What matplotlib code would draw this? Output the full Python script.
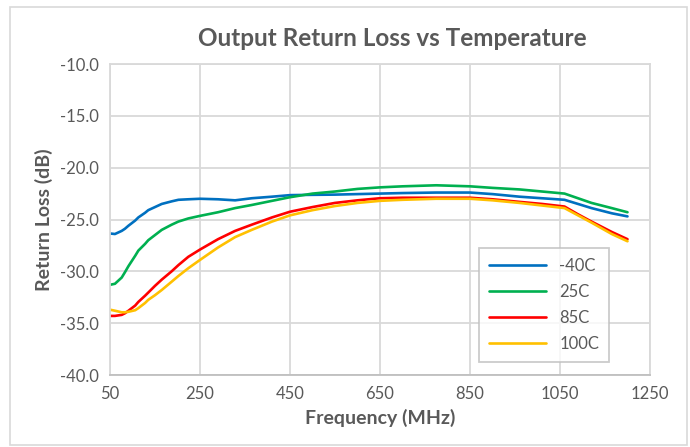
import matplotlib
matplotlib.use("Agg")
import matplotlib.pyplot as plt
from matplotlib.patches import Rectangle

freq = [50, 61, 76, 83, 91, 106, 113, 128, 135, 150, 165, 187, 202, 224, 250, 290, 328, 365, 410, 450, 500, 550, 600, 650, 700, 775, 850, 900, 960, 1010, 1060, 1090, 1120, 1165, 1200]
rl_m40 = [-26.35, -26.4, -26.1, -25.9, -25.6, -25.1, -24.8, -24.35, -24.1, -23.8, -23.5, -23.25, -23.1, -23.05, -23.0, -23.05, -23.15, -22.95, -22.8, -22.65, -22.62, -22.6, -22.55, -22.5, -22.45, -22.4, -22.4, -22.55, -22.8, -22.95, -23.1, -23.5, -23.9, -24.4, -24.7]
rl_25 = [-31.3, -31.2, -30.6, -30.1, -29.5, -28.5, -28.0, -27.35, -27.0, -26.5, -26.0, -25.5, -25.2, -24.9, -24.65, -24.3, -23.9, -23.6, -23.2, -22.85, -22.5, -22.3, -22.05, -21.9, -21.8, -21.7, -21.8, -21.95, -22.1, -22.3, -22.5, -22.95, -23.4, -23.9, -24.3]
rl_85 = [-34.3, -34.3, -34.2, -34.05, -33.8, -33.3, -32.95, -32.35, -32.05, -31.4, -30.8, -30.0, -29.4, -28.6, -27.9, -26.9, -26.1, -25.5, -24.8, -24.25, -23.8, -23.4, -23.15, -22.95, -22.9, -22.9, -22.9, -23.05, -23.3, -23.5, -23.75, -24.5, -25.2, -26.2, -26.9]
rl_100 = [-33.7, -33.8, -33.95, -33.95, -33.9, -33.75, -33.55, -33.05, -32.75, -32.3, -31.8, -31.0, -30.45, -29.7, -28.9, -27.7, -26.7, -26.0, -25.2, -24.6, -24.1, -23.7, -23.4, -23.2, -23.1, -23.0, -23.0, -23.15, -23.4, -23.65, -23.9, -24.6, -25.3, -26.4, -27.1]
labels = ["-40C", "25C", "85C", "100C"]
colors = ["#0070C0", "#00B050", "#FF0000", "#FFC000"]
xticks = [50, 250, 450, 650, 850, 1050, 1250]
yticks = [-10, -15, -20, -25, -30, -35, -40]

plt.rcParams['font.family'] = ['Lato', 'DejaVu Sans']
fig = plt.figure(figsize=(6.9, 4.47), dpi=100)
ax = fig.add_axes([110/690, 72/447, 540/690, 311/447])

for y, lab, c in zip([rl_m40, rl_25, rl_85, rl_100], labels, colors):
    ax.plot(freq, y, color=c, lw=1.9, label=lab, solid_capstyle='round', solid_joinstyle='round')

ax.set_xlim(50, 1250)
ax.set_ylim(-40, -10)
ax.set_xticks(xticks)
ax.set_yticks(yticks)
ax.set_yticklabels([f"{v:.1f}" for v in yticks])
ax.grid(True, color="#d9d9d9", lw=1.3)
ax.set_axisbelow(True)
for s in ax.spines.values():
    s.set_color("#d9d9d9")
    s.set_linewidth(1.3)
ax.spines['bottom'].set_color("#bfbfbf")
ax.tick_params(length=0, colors="#595959", labelsize=12, pad=8)

ax.set_xlabel("Frequency (MHz)", fontsize=14, fontweight='bold', color="#595959", labelpad=5)
ax.set_ylabel("Return Loss (dB)", fontsize=14, fontweight='bold', color="#595959", labelpad=5)
fig.text(392/690, 1 - 38/447, "Output Return Loss vs Temperature", ha='center', va='center',
         fontsize=17.5, fontweight='bold', color="#595959")

leg = ax.legend(loc='lower right', bbox_to_anchor=(0.940, 0.016), fontsize=12, frameon=True,
                fancybox=False, edgecolor="#bfbfbf", handlelength=3.4, borderpad=0.6, labelspacing=0.6)
leg.get_frame().set_linewidth(1.3)
for t in leg.get_texts():
    t.set_color("#595959")

fig.patches.append(Rectangle((10/690, 2/447), 677/690, 438/447, transform=fig.transFigure,
                             fill=False, edgecolor="#d9d9d9", lw=1.2))
fig.savefig("out.png", dpi=100)
